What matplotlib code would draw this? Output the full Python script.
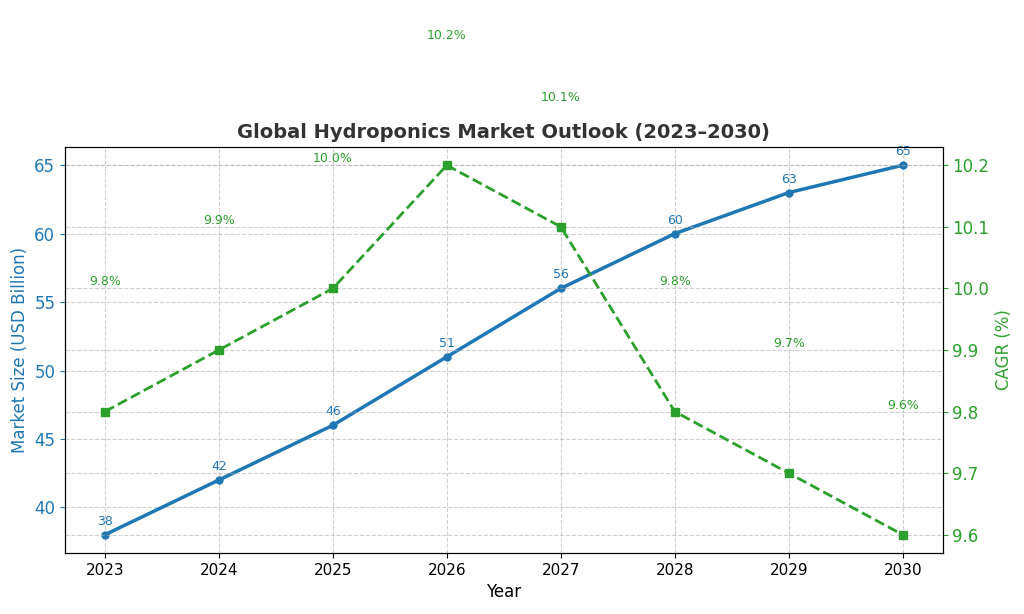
import matplotlib
matplotlib.use("Agg")
import matplotlib.pyplot as plt

years = [2023, 2024, 2025, 2026, 2027, 2028, 2029, 2030]
market = [38, 42, 46, 51, 56, 60, 63, 65]
cagr = [9.8, 9.9, 10.0, 10.2, 10.1, 9.8, 9.7, 9.6]

blue = "#1f77b4"
green = "#2ca02c"

fig = plt.figure(figsize=(10.24, 6.14), dpi=100)
ax = fig.add_axes([0.0635, 0.099, 0.857, 0.662])
ax.plot(years, market, color=blue, marker="o", lw=2.5, ms=5)
for x, y in zip(years, market):
    ax.annotate(f"{y}", (x, y), xytext=(0, 5), textcoords="offset points",
                ha="center", va="bottom", color=blue, fontsize=9)
ax.set_xlabel("Year", fontsize=12)
ax.set_ylabel("Market Size (USD Billion)", color=blue, fontsize=12)
ax.tick_params(axis="y", colors=blue, labelsize=12)
ax.tick_params(axis="x", labelsize=11)
ax.grid(True, ls="--", alpha=0.6)
ax.set_title("Global Hydroponics Market Outlook (2023–2030)", fontsize=14,
             fontweight="bold", color="#333333")

ax2 = ax.twinx()
ax2.plot(years, cagr, color=green, marker="s", ls="--", lw=2, ms=6)
for x, v in zip(years, cagr):
    ax2.text(x, v + 0.2, f"{v:.1f}%", ha="center", va="bottom", color=green,
             fontsize=9, clip_on=False)
ax2.set_ylabel("CAGR (%)", color=green, fontsize=12)
ax2.tick_params(axis="y", colors=green, labelsize=12)
ax2.grid(True, ls="--", alpha=0.6)
fig.savefig("out.png")
